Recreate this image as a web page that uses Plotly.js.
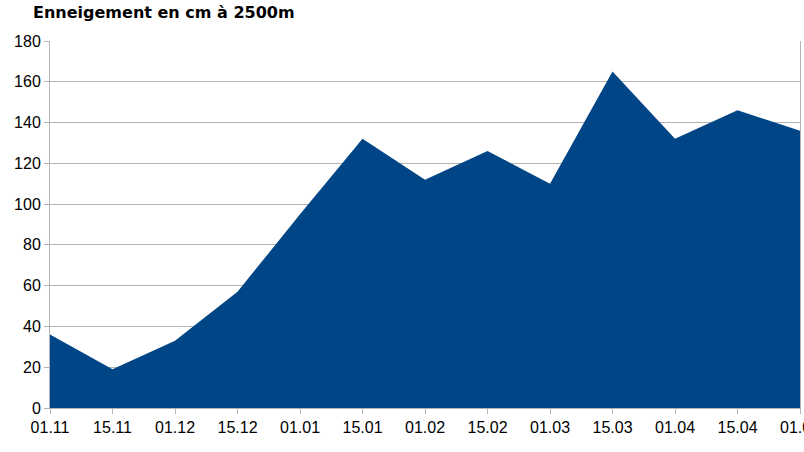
<!DOCTYPE html>
<html>
<head>
<meta charset="utf-8">
<script src="https://cdn.plot.ly/plotly-3.0.1.min.js"></script>
<style>
  html, body { margin: 0; padding: 0; background: #fff; }
  #chart { width: 804px; height: 452px; }
</style>
</head>
<body>
<div id="chart"></div>
<script>
// dates sampled twice a month, snow depth in cm
const dates = ['01.11', '15.11', '01.12', '15.12', '01.01', '15.01', '01.02',
               '15.02', '01.03', '15.03', '01.04', '15.04', '01.05'];
const snowCm = [36, 19, 33, 57, 95, 132, 112, 126, 110, 165, 132, 146, 136];
const yTicks = [0, 20, 40, 60, 80, 100, 120, 140, 160, 180];

const idx = dates.map((d, i) => i);

const trace = {
  x: idx,
  y: snowCm,
  type: 'scatter',
  mode: 'lines',
  fill: 'tozeroy',
  fillcolor: '#004586',
  line: { color: '#004586', width: 0 },
  hoverinfo: 'skip'
};

const layout = {
  width: 804,
  height: 452,
  margin: { l: 50, r: 4, t: 41, b: 44 },
  paper_bgcolor: '#fff',
  plot_bgcolor: '#fff',
  showlegend: false,
  font: { family: 'Liberation Sans, Arial, sans-serif', size: 16, color: '#000' },
  title: {
    text: 'Enneigement en cm à 2500m',
    font: { family: 'DejaVu Sans, sans-serif', size: 16, weight: 'bold', color: '#000' },
    x: 33 / 804, xref: 'container', xanchor: 'left',
    y: 12, yref: 'container', yanchor: 'middle'
  },
  xaxis: {
    range: [0, dates.length - 1],
    tickmode: 'array',
    tickvals: idx,
    ticktext: dates,
    ticklabeloverflow: 'allow',
    showgrid: false,
    zeroline: false,
    showline: true,
    linecolor: '#b3b3b3',
    linewidth: 1,
    ticks: 'outside',
    ticklen: 5,
    tickcolor: '#b3b3b3',
    tickfont: { size: 16 }
  },
  yaxis: {
    range: [0, 180],
    tickmode: 'array',
    tickvals: yTicks,
    showgrid: true,
    gridcolor: '#b3b3b3',
    gridwidth: 1,
    zeroline: false,
    showline: true,
    mirror: true,
    linecolor: '#b3b3b3',
    linewidth: 1,
    ticks: 'outside',
    ticklen: 5,
    tickcolor: '#b3b3b3',
    tickfont: { size: 16 }
  }
};

// title sits 12px below the top edge
layout.title.y = 1 - 12 / 452;

Plotly.newPlot('chart', [trace], layout, { staticPlot: true, displayModeBar: false });
</script>
</body>
</html>
